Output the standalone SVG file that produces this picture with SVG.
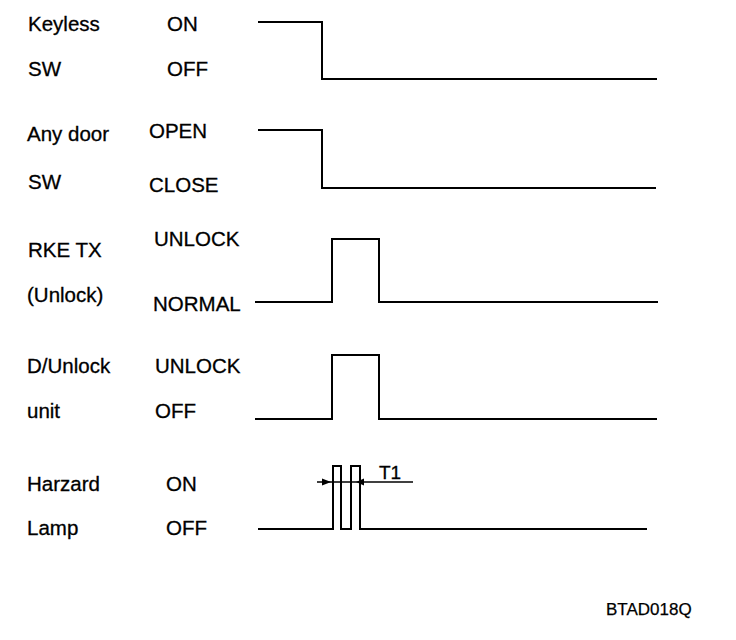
<svg xmlns="http://www.w3.org/2000/svg" width="736" height="640" viewBox="0 0 736 640">
<style>
text{font-family:"Liberation Sans",Arial,sans-serif;font-size:20.5px;fill:#000;stroke:#000;stroke-width:0.3}
.w{fill:none;stroke:#000;stroke-width:2}
.s{font-size:17px;stroke-width:0.25}
</style>
<rect width="736" height="640" fill="#fff"/>
<g id="keyless">
<text x="28" y="31">Keyless</text>
<text x="28" y="76">SW</text>
<text x="167" y="31">ON</text>
<text x="167" y="76">OFF</text>
<path class="w" d="M258 22H322V79H657"/>
</g>
<g id="anydoor">
<text x="27" y="141">Any door</text>
<text x="28" y="189">SW</text>
<text x="149" y="138">OPEN</text>
<text x="149" y="192">CLOSE</text>
<path class="w" d="M258 130H322V188H656"/>
</g>
<g id="rke">
<text x="28" y="257">RKE TX</text>
<text x="27" y="302">(Unlock)</text>
<text x="154" y="246">UNLOCK</text>
<text x="153" y="311">NORMAL</text>
<path class="w" d="M255 302H332V239H379V302H658"/>
</g>
<g id="dunlock">
<text x="27" y="373">D/Unlock</text>
<text x="27" y="418">unit</text>
<text x="155" y="373">UNLOCK</text>
<text x="155" y="418">OFF</text>
<path class="w" d="M255 419H332V355H379V419H657"/>
</g>
<g id="hazard">
<text x="27" y="491">Harzard</text>
<text x="27" y="535">Lamp</text>
<text x="166" y="491">ON</text>
<text x="166" y="535">OFF</text>
<path class="w" d="M258 529H333V466H341V529H351V466H360V529H647"/>
</g>
<g id="connectors">
<line x1="317" y1="482" x2="413" y2="482" stroke="#000" stroke-width="1.5"/>
<path d="M331 482L322 478.5V485.5Z" fill="#000"/>
<path d="M356 482L364 478.5V485.5Z" fill="#000"/>
<text x="379" y="479" style="font-size:19px">T1</text>
</g>
<text class="s" x="606" y="615">BTAD018Q</text>
</svg>
